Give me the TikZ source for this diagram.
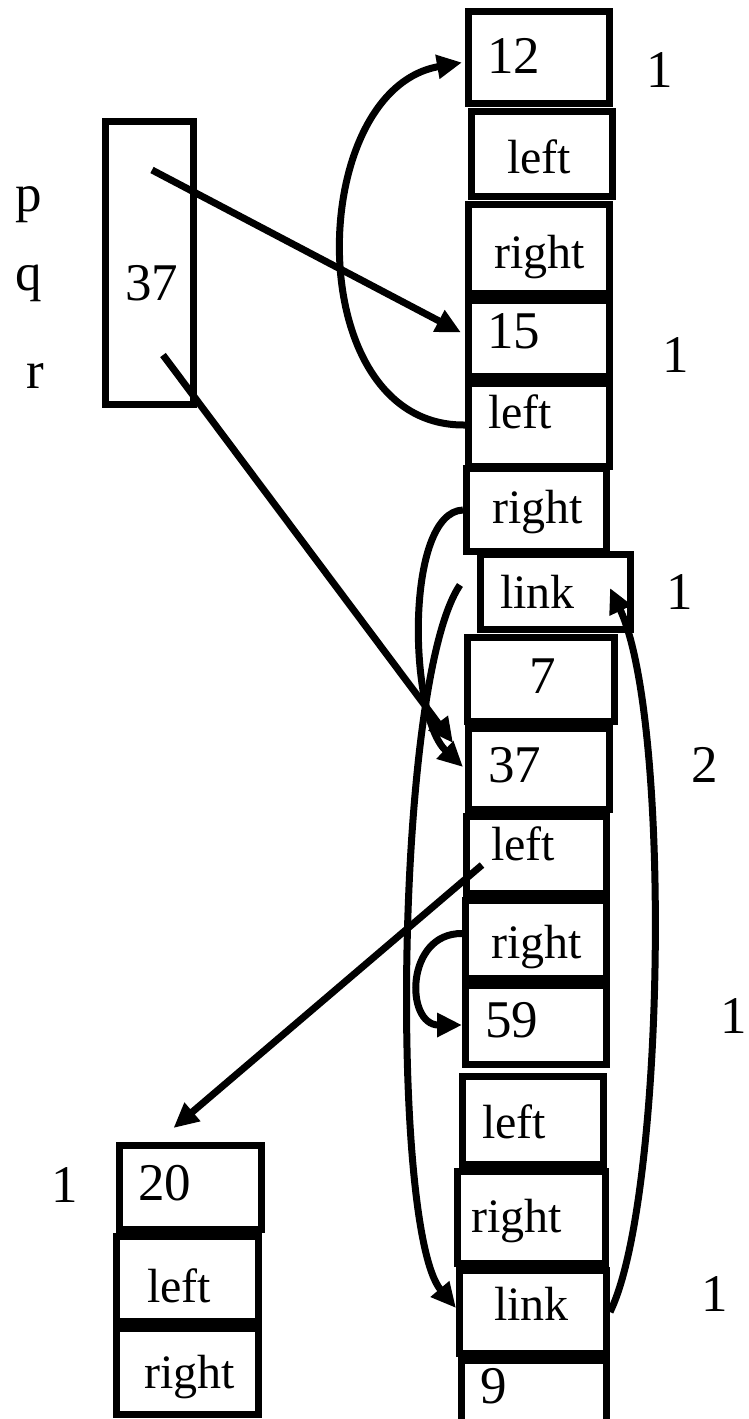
\documentclass[tikz,border=0pt]{standalone}
\usepackage{fontspec}
\setmainfont{Liberation Serif}
\usetikzlibrary{arrows.meta}
% one storage cell given by its outer left, top, right and bottom edges
\newcommand\cellbox[5]{%
  \node[cell, minimum width={#4-#2-7}, minimum height={#5-#3-7}]
    (#1) at ({(#2+#4)/2},{(#3+#5)/2}) {};}
\begin{document}
\begin{tikzpicture}[x=1pt,y=-1pt,
  cell/.style={draw, line width=7pt, rectangle, inner sep=0pt},
  txt/.style={anchor=base west, inner sep=0pt, font=\fontsize{48}{56}\selectfont},
  num/.style={txt, font=\fontsize{53}{60}\selectfont},
  ptr/.style={line width=7pt, -{Triangle[length=25pt,width=23pt]}},
  ]
\useasboundingbox (0,0) rectangle (749,1419);
\clip (0,0) rectangle (749,1419);

% pointer variables p, q, r
\cellbox{bpqr}{102}{118}{197}{408}
\node[num] (tp) at (15,211) {p};
\node[num] (tq) at (15,290) {q};
\node[num] (tr) at (26,388) {r};
\node[num] (tpv) at (125,300) {37};

% heap column
\cellbox{b12}{465}{8}{613}{107}
\cellbox{bl1}{468}{108}{616}{200}
\cellbox{br1}{465}{201}{613}{297}
\cellbox{b15}{465}{297}{613}{380}
\cellbox{bl2}{465}{380}{613}{470}
\cellbox{br2}{463}{465}{610}{555}
\cellbox{blk1}{477}{551}{634}{633}
\cellbox{b7}{464}{634}{618}{725}
\cellbox{b37}{465}{725}{613}{813}
\cellbox{bl3}{463}{813}{610}{897}
\cellbox{br3}{462}{897}{610}{982}
\cellbox{b59}{462}{982}{610}{1068}
\cellbox{bl4}{459}{1073}{607}{1168}
\cellbox{br4}{454}{1168}{609}{1267}
\cellbox{blk2}{456}{1267}{610}{1357}
\cellbox{b9}{458}{1357}{610}{1440}

\node[num] (t12)  at (487,73)   {12};
\node[txt] (tl1)  at (507,173)  {left};
\node[txt] (tr1)  at (494,268)  {right};
\node[num] (t15)  at (487,348)  {15};
\node[txt] (tl2)  at (488,428)  {left};
\node[txt] (tr2)  at (492,523)  {right};
\node[txt] (tk1)  at (500,608)  {link};
\node[num] (t7)   at (529,693)  {7};
\node[num] (t37)  at (488,782)  {37};
\node[txt] (tl3)  at (491,860)  {left};
\node[txt] (tr3)  at (491,958)  {right};
\node[num] (t59)  at (485,1037) {59};
\node[txt] (tl4)  at (482,1138) {left};
\node[txt] (tr4)  at (471,1232) {right};
\node[txt] (tk2)  at (494,1320) {link};
\node[num] (t9)   at (480,1403) {9};

% reference counts
\node[num] (c12) at (646,87)   {1};
\node[num] (c15) at (662,372)  {1};
\node[num] (ck1) at (666,609)  {1};
\node[num] (c37) at (691,782)  {2};
\node[num] (c59) at (720,1033) {1};
\node[num] (ck2) at (701,1311) {1};

% separate node with value 20
\cellbox{b20}{116}{1142}{265}{1233}
\cellbox{bl5}{113}{1233}{262}{1325}
\cellbox{br5}{113}{1325}{262}{1418}
\node[num] (t20) at (138,1200) {20};
\node[txt] (tl5) at (147,1302) {left};
\node[txt] (tr5) at (144,1388) {right};
\node[num] (c20) at (51,1202)  {1};

% pointer origins inside cells
\coordinate (pptr) at (152,170);
\coordinate (rptr) at (163,355);
\coordinate (l3ptr) at (482,865);

% connectors
\draw[ptr] (pptr) -- ([xshift=-4pt,yshift=6pt]b15.west);
\draw[ptr] (rptr) -- ([xshift=-12pt,yshift=26pt]b37.west);
\draw[ptr] (bl2.west) .. controls (299,427) and (305,90) .. ([xshift=-3pt,yshift=-5pt]b12.west);
\draw[ptr] (br2.west) .. controls (405,512) and (408,715) .. ([xshift=-2pt,yshift=2pt]b37.west);
\draw[ptr] ([xshift=-17pt,yshift=7pt]blk1.west) .. controls (395,680) and (390,1230) .. ([yshift=4pt]blk2.west);
\draw[ptr] (blk2.east) .. controls (665,1200) and (672,720) .. ([xshift=-24pt,yshift=4pt]blk1.east);
\draw[ptr] (l3ptr) -- ([xshift=-17pt,yshift=14pt]b20.north);
\draw[ptr] ([yshift=6pt]br3.west) .. controls (405,933) and (405,1025) .. (b59.west);
\end{tikzpicture}
\end{document}
